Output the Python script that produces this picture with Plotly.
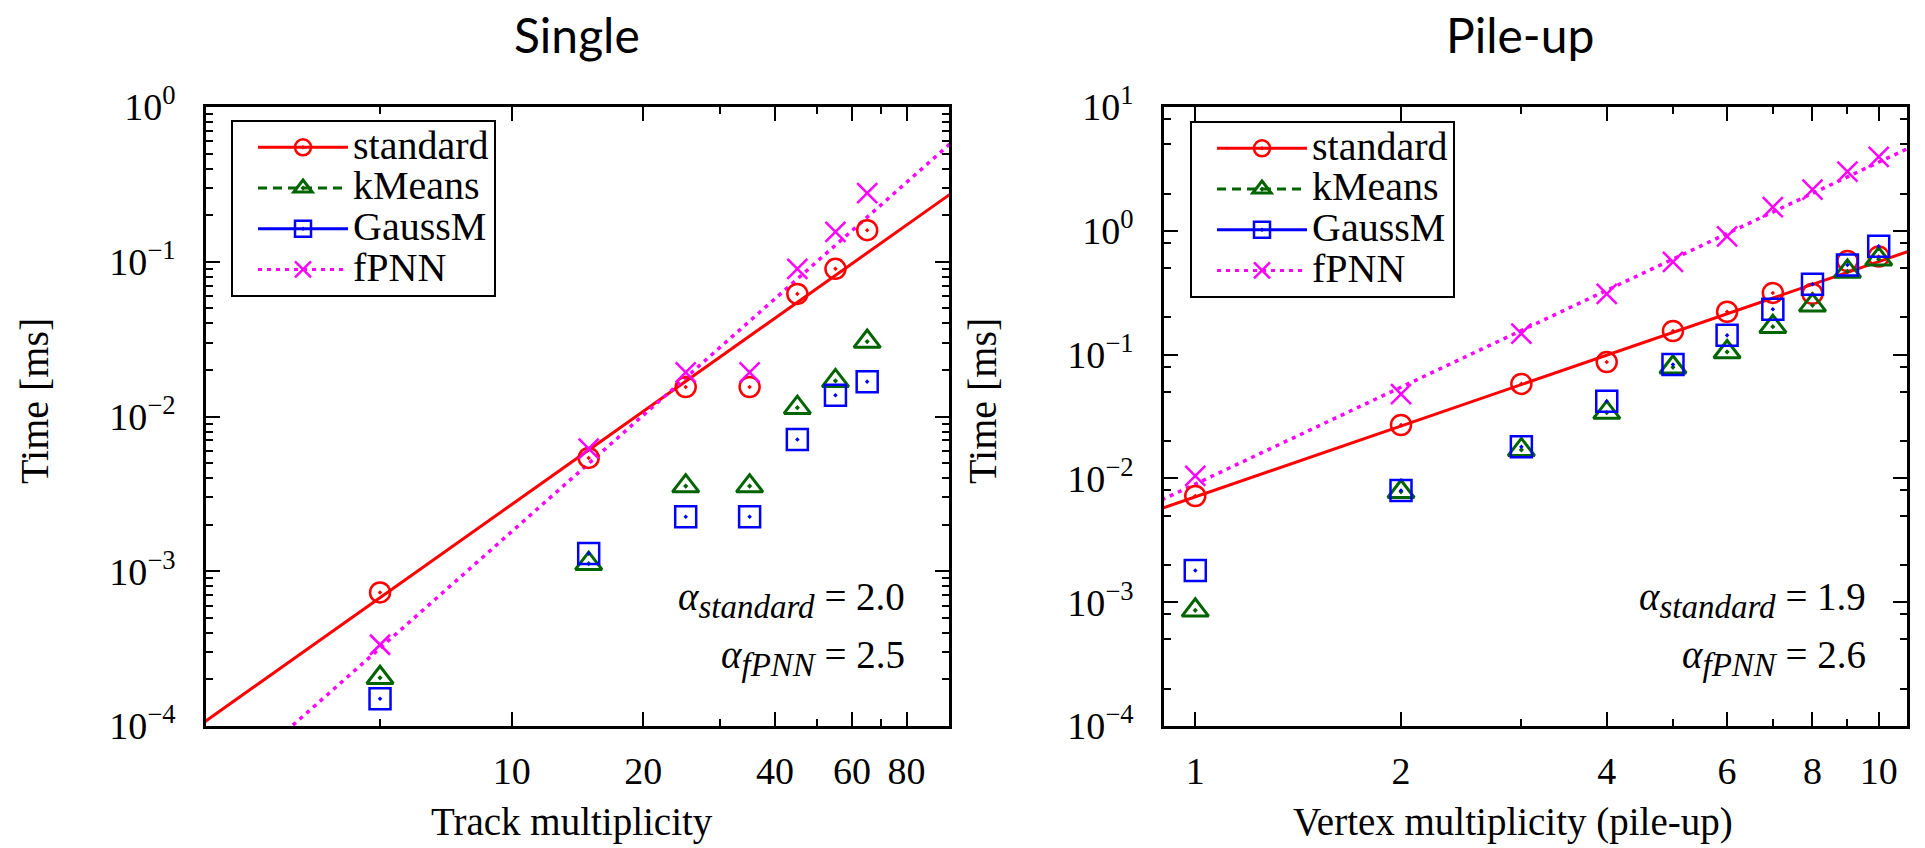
import numpy as np
import plotly.graph_objects as go

W, H = 1925, 848

# ---- Single events: time per event vs. track multiplicity ----
track_mult = [5, 15, 25, 35, 45, 55, 65]
single_standard = [7.3e-4, 5.4e-3, 1.55e-2, 1.55e-2, 6.2e-2, 9.0e-2, 0.16]
single_kmeans = [2.05e-4, 1.12e-3, 3.55e-3, 3.55e-3, 1.14e-2, 1.70e-2, 3.05e-2]
single_gaussm = [1.5e-4, 1.3e-3, 2.25e-3, 2.25e-3, 7.1e-3, 1.37e-2, 1.68e-2]
single_fpnn = [3.35e-4, 6.2e-3, 1.93e-2, 1.93e-2, 9.0e-2, 0.156, 0.278]

# ---- Pile-up: time per event vs. number of vertices ----
vertex_mult = [1, 2, 3, 4, 5, 6, 7, 8, 9, 10]
pileup_standard = [7.2e-3, 2.7e-2, 5.8e-2, 8.7e-2, 0.155, 0.222, 0.315, 0.31, 0.57, 0.62]
pileup_kmeans = [8.6e-4, 7.8e-3, 1.7e-2, 3.4e-2, 7.9e-2, 0.105, 0.168, 0.25, 0.47, 0.59]
pileup_gaussm = [1.8e-3, 8.0e-3, 1.8e-2, 4.2e-2, 8.3e-2, 0.143, 0.232, 0.37, 0.53, 0.75]
pileup_fpnn = [1.05e-2, 4.8e-2, 0.148, 0.31, 0.56, 0.9, 1.55, 2.15, 3.0, 3.95]

# ---- power-law fits  t = coef * n**alpha ----
single_alpha_standard, single_coef_standard = 2.0, 2.7e-5
single_alpha_fpnn, single_coef_fpnn = 2.5, 5.7e-6
pileup_alpha_standard, pileup_coef_standard = 1.9, 7.1e-3
pileup_alpha_fpnn, pileup_coef_fpnn = 2.6, 9.0e-3

# ---- axis ticks ----
single_x_ticks = [10, 20, 40, 60, 80]
single_x_minor = [5, 30, 50, 70]
pileup_x_ticks = [1, 2, 4, 6, 8, 10]
pileup_x_minor = [3, 5, 7, 9]
single_y_ticks = [1e-4, 1e-3, 1e-2, 1e-1, 1]
single_y_labels = ["10<sup>−4</sup>", "10<sup>−3</sup>", "10<sup>−2</sup>",
                   "10<sup>−1</sup>", "10<sup>0</sup>"]
pileup_y_ticks = [1e-4, 1e-3, 1e-2, 1e-1, 1, 10]
pileup_y_labels = ["10<sup>−4</sup>", "10<sup>−3</sup>", "10<sup>−2</sup>",
                   "10<sup>−1</sup>", "10<sup>0</sup>", "10<sup>1</sup>"]
single_y_minor = [m * 10.0 ** e for e in range(-4, 0) for m in range(2, 10)]
pileup_y_minor = [m * 10.0 ** e for e in range(-4, 1) for m in (2, 5, 8)]

SERIF = "Liberation Serif"
SANS = "Lato"

series_names = ["standard", "kMeans", "GaussM", "fPNN"]
colors = {"standard": "#ff0000", "kMeans": "#006400", "GaussM": "#0000ff", "fPNN": "#ff00ff"}
symbols = {"standard": "circle-open-dot", "kMeans": "triangle-up-open-dot",
           "GaussM": "square-open-dot", "fPNN": "x-thin-open"}
sizes = {"standard": 20, "kMeans": 23, "GaussM": 21, "fPNN": 20}
strokes = {"standard": 2.5, "kMeans": 3, "GaussM": 2.5, "fPNN": 2.5}
dashes = {"standard": "solid", "kMeans": "9px,6px", "GaussM": "solid", "fPNN": "4px,5px"}


def px_x(p):
    return p / W


def px_y(p):
    return 1 - p / H


fig = go.Figure()

panels = [
    dict(xa="x", ya="y", legend="legend", x=track_mult,
         data=[single_standard, single_kmeans, single_gaussm, single_fpnn],
         fits=[(single_coef_standard, single_alpha_standard, "standard"),
               (single_coef_fpnn, single_alpha_fpnn, "fPNN")],
         fit_x=np.geomspace(1.5, 130, 60)),
    dict(xa="x2", ya="y2", legend="legend2", x=vertex_mult,
         data=[pileup_standard, pileup_kmeans, pileup_gaussm, pileup_fpnn],
         fits=[(pileup_coef_standard, pileup_alpha_standard, "standard"),
               (pileup_coef_fpnn, pileup_alpha_fpnn, "fPNN")],
         fit_x=np.geomspace(0.8, 13, 60)),
]

for pan in panels:
    # fitted power laws
    for coef, alpha, name in pan["fits"]:
        fig.add_trace(go.Scatter(
            x=pan["fit_x"], y=coef * pan["fit_x"] ** alpha, mode="lines",
            line=dict(color=colors[name], width=3.5 if name == "fPNN" else 3,
                      dash=dashes[name]),
            xaxis=pan["xa"], yaxis=pan["ya"], showlegend=False, hoverinfo="skip"))
    # measured timings
    for name, vals in zip(series_names, pan["data"]):
        fig.add_trace(go.Scatter(
            x=pan["x"], y=vals, mode="markers", name=name,
            marker=dict(symbol=symbols[name], size=sizes[name], color=colors[name],
                        line=dict(color=colors[name], width=strokes[name])),
            xaxis=pan["xa"], yaxis=pan["ya"], showlegend=False))
    # legend entries
    for name in series_names:
        fig.add_trace(go.Scatter(
            x=[None], y=[None], mode="lines+markers",
            name='<span style="font-size:40px">%s</span>' % name,
            line=dict(color=colors[name], width=3, dash=dashes[name]),
            marker=dict(symbol=symbols[name], size=sizes[name], color=colors[name],
                        line=dict(color=colors[name], width=strokes[name])),
            xaxis=pan["xa"], yaxis=pan["ya"], legend=pan["legend"], showlegend=True))

tickfont = dict(family=SERIF, size=38, color="black")
common_axis = dict(type="log", showline=True, linecolor="black", linewidth=2.5,
                   mirror="ticks", ticks="inside", ticklen=14, tickwidth=2,
                   tickcolor="black", showgrid=False, zeroline=False,
                   tickfont=tickfont, tickmode="array", automargin=False)

yd = [px_y(726), px_y(107)]
legend_common = dict(xanchor="left", yanchor="top", bgcolor="white",
                     bordercolor="black", borderwidth=2,
                     font=dict(family=SERIF, size=29, color="black"),
                     itemwidth=90, indentation=20, tracegroupgap=0)
fig.update_layout(
    template="simple_white",
    width=W, height=H, margin=dict(l=0, r=0, t=0, b=0, pad=0, autoexpand=False),
    paper_bgcolor="white", plot_bgcolor="white",
    xaxis=dict(common_axis, domain=[px_x(206), px_x(949)],
               range=[np.log10(2), 2], tickvals=single_x_ticks,
               ticktext=[str(v) for v in single_x_ticks], anchor="y",
               ticklabelstandoff=10,
               minor=dict(tickmode="array", tickvals=single_x_minor, ticks="inside",
                          ticklen=7, tickwidth=2, tickcolor="black")),
    yaxis=dict(common_axis, domain=yd, range=[-4, 0], tickvals=single_y_ticks,
               ticktext=single_y_labels, anchor="x", ticklabelstandoff=20,
               minor=dict(tickmode="array", tickvals=single_y_minor, ticks="inside",
                          ticklen=7, tickwidth=2, tickcolor="black")),
    xaxis2=dict(common_axis, domain=[px_x(1164), px_x(1907)],
                range=[np.log10(0.9), np.log10(11)], tickvals=pileup_x_ticks,
                ticktext=[str(v) for v in pileup_x_ticks], anchor="y2",
                ticklabelstandoff=10,
                minor=dict(tickmode="array", tickvals=pileup_x_minor, ticks="inside",
                           ticklen=7, tickwidth=2, tickcolor="black")),
    yaxis2=dict(common_axis, domain=yd, range=[-4, 1], tickvals=pileup_y_ticks,
                ticktext=pileup_y_labels, anchor="x2", ticklabelstandoff=20,
                minor=dict(tickmode="array", tickvals=pileup_y_minor, ticks="inside",
                           ticklen=7, tickwidth=2, tickcolor="black")),
    legend=dict(legend_common, x=px_x(231), y=px_y(120)),
    legend2=dict(legend_common, x=px_x(1190), y=px_y(121)),
)

ann = []


def text(x, y, s, font, xanchor="center", yanchor="middle", **kw):
    ann.append(dict(x=px_x(x), y=px_y(y), xref="paper", yref="paper", text=s,
                    showarrow=False, font=font, xanchor=xanchor, yanchor=yanchor, **kw))


title_font = dict(family=SANS, size=48, color="black")
label_font = dict(family=SERIF, size=40, color="black")
xlabel_font = dict(family=SERIF, size=39, color="black")
fit_font = dict(family=SERIF, size=39, color="black")

text(577, 34, "Single", title_font)
text(1520, 34, "Pile-up", title_font)
text(34, 401, "Time [ms]", label_font, textangle=-90)
text(982, 401, "Time [ms]", label_font, textangle=-90)
text(572, 822, "Track multiplicity", xlabel_font)
text(1513, 822, "Vertex multiplicity (pile-up)", xlabel_font)

SUB = '<sub><span style="font-size:33px"><i>%s</i></span></sub>'
fit_labels = [
    (907, single_alpha_standard, single_alpha_fpnn),
    (1868, pileup_alpha_standard, pileup_alpha_fpnn),
]
for xr, a_std, a_fp in fit_labels:
    text(xr, 600, "<i>α</i>" + SUB % "standard" + " = %.1f" % a_std, fit_font,
         xanchor="right")
    text(xr, 658, "<i>α</i>" + SUB % "fPNN" + " = %.1f" % a_fp, fit_font,
         xanchor="right")

fig.update_layout(annotations=ann)
fig.write_html("out.html")
